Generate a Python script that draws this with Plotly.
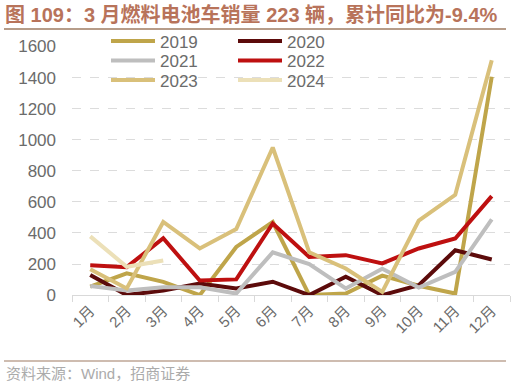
import plotly.graph_objects as go

months = ["1月", "2月", "3月", "4月", "5月", "6月", "7月", "8月", "9月", "10月", "11月", "12月"]

y2019 = [55, 140, 85, 0, 310, 470, 0, 10, 125, 60, 10, 1405]
y2020 = [130, 0, 30, 75, 43, 86, 0, 118, 0, 64, 289, 229]
y2021 = [58, 30, 50, 50, 10, 275, 199, 43, 169, 49, 150, 487]
y2022 = [192, 180, 366, 94, 101, 461, 246, 257, 204, 300, 364, 637]
y2023 = [167, 43, 471, 300, 425, 950, 275, 171, 20, 480, 645, 1511]
y2024 = [378, 182, 223]

series = [
    ("2019", y2019, "#BFA54A", "legend"),
    ("2020", y2020, "#5C0B0B", "legend"),
    ("2021", y2021, "#BEBEBE", "legend2"),
    ("2022", y2022, "#BE1010", "legend2"),
    ("2023", y2023, "#D9C07A", "legend3"),
    ("2024", y2024, "#ECE0B8", "legend3"),
]

FONT = "Liberation Sans, Arial, Noto Sans CJK SC, sans-serif"

fig = go.Figure()
for name, vals, color, lg in series:
    fig.add_trace(go.Scatter(
        x=months[:len(vals)], y=vals, name=name, mode="lines",
        line=dict(color=color, width=4), legend=lg,
    ))

W, H = 511, 387
# paper area spans from the title rule (top) to the footer rule (bottom)
PL, PR, PT, PB = 4, 510, 28.5, 361
pw, ph = PR - PL, PB - PT

def px(x):
    return (x - PL) / pw

def py(y):
    return (PB - y) / ph

# plot area in pixels
AX_L, AX_R, AX_T, AX_B = 72, 510, 46, 295

legend_font = dict(family=FONT, size=17, color="#6b6b6b")

def leg(yc):
    return dict(orientation="h", x=px(106), y=py(yc), xanchor="left", yanchor="middle",
                bgcolor="rgba(0,0,0,0)", borderwidth=0, font=legend_font,
                tracegroupgap=0, itemwidth=44, entrywidth=68, entrywidthmode="pixels")

fig.update_layout(
    width=W, height=H,
    margin=dict(l=PL, r=W - PR, t=PT, b=H - PB, autoexpand=False),
    paper_bgcolor="white", plot_bgcolor="white",
    showlegend=True,
    legend=leg(41), legend2=leg(60.5), legend3=leg(80),
    xaxis=dict(
        domain=[px(AX_L), px(AX_R)],
        type="category", categoryorder="array", categoryarray=months,
        range=[-0.5, 11.5], tickangle=-45, tickson="boundaries",
        ticks="outside", ticklen=6, tickcolor="#d9d9d9",
        showline=True, linecolor="#d9d9d9", linewidth=1,
        showgrid=False,
        tickfont=dict(family=FONT, size=15, color="#6b6b6b"),
    ),
    yaxis=dict(
        domain=[py(AX_B), py(AX_T)],
        range=[0, 1600], tickvals=[0, 200, 400, 600, 800, 1000, 1200, 1400, 1600],
        showgrid=True, gridcolor="#dcdcdc", griddash="dash", gridwidth=1,
        zeroline=False, showline=False,
        tickfont=dict(family=FONT, size=17, color="#6b6b6b"),
        ticklabelstandoff=15,
    ),
)

# title
fig.add_annotation(
    text="<b>图 109：3 月燃料电池车销量 223 辆，累计同比为-9.4%</b>",
    xref="paper", yref="paper", x=px(3), y=py(14), xanchor="left", yanchor="middle",
    showarrow=False, font=dict(family=FONT, size=20, color="#B8735A"),
)
# rules under the title and above the source note
fig.add_shape(type="line", xref="paper", yref="paper", layer="above",
              x0=0, x1=px(506), y0=1, y1=1,
              line=dict(color="#9E7B62", width=1.5))
fig.add_shape(type="line", xref="paper", yref="paper", layer="above",
              x0=0, x1=px(506), y0=0, y1=0,
              line=dict(color="#9E7B62", width=1.2))
# source note
fig.add_annotation(
    text="资料来源：Wind，招商证券",
    xref="paper", yref="paper", x=px(4), y=py(374), xanchor="left", yanchor="middle",
    showarrow=False, font=dict(family=FONT, size=15, color="#ababab"),
)

fig.write_html(
    "out.html", config={"displayModeBar": False},
    post_script="document.body.style.margin='0';",
)
